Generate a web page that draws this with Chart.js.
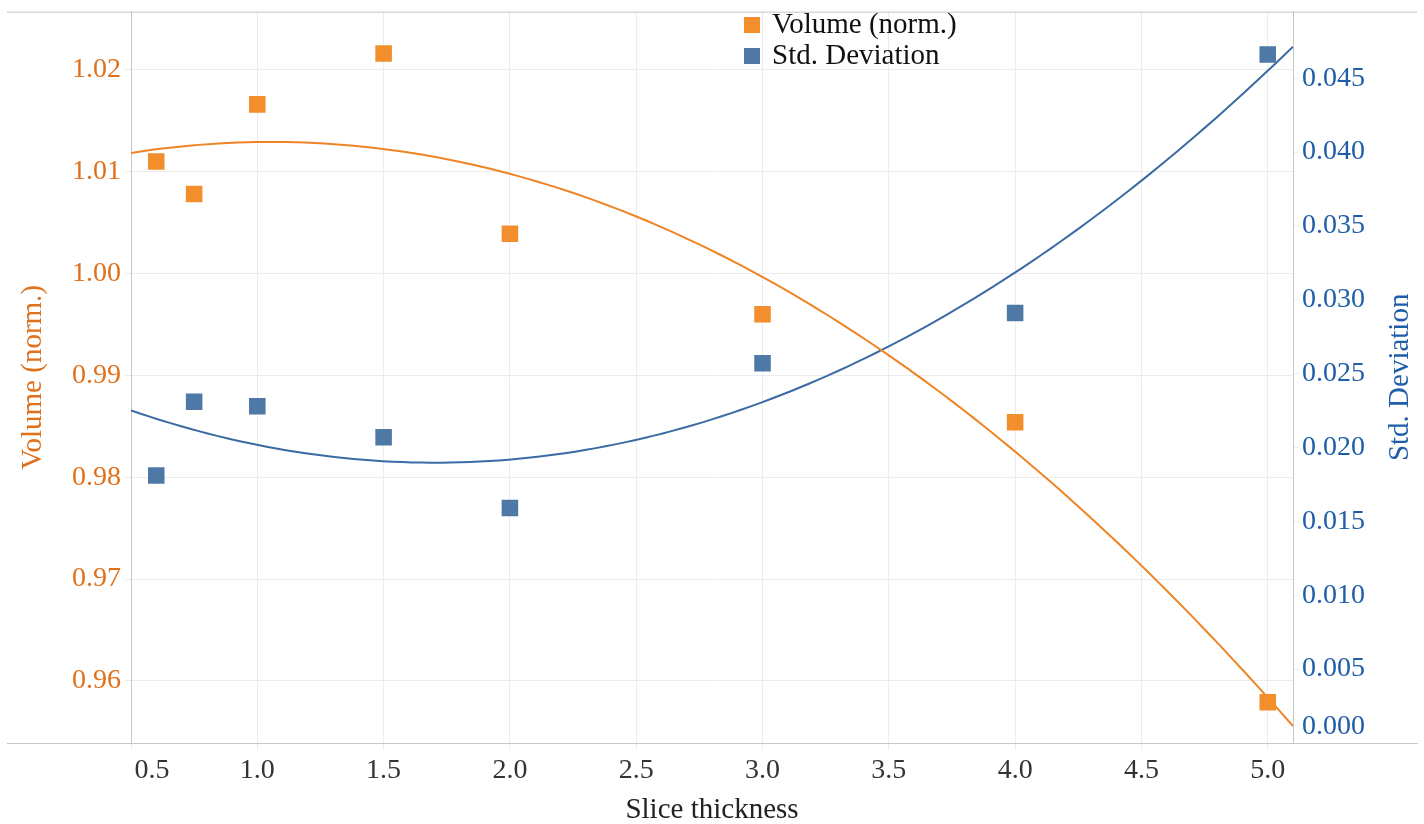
<!DOCTYPE html>
<html>
<head>
<meta charset="utf-8">
<title>Volume (norm.) and Std. Deviation vs Slice thickness</title>
<script src="https://cdn.jsdelivr.net/npm/chart.js@4.4.1/dist/chart.umd.min.js"></script>
<style>
  html, body { margin: 0; padding: 0; background: #fff; }
  #wrap { position: relative; width: 1424px; height: 824px; }
</style>
</head>
<body>
<div id="wrap"><canvas id="chart"></canvas></div>
<script>
// values
const sliceThickness = [0.6, 0.75, 1.0, 1.5, 2.0, 3.0, 4.0, 5.0];
const volumeNorm = [1.0110, 1.0078, 1.0166, 1.0216, 1.0039, 0.9960, 0.9854, 0.9579];
const stdDeviation = [0.0181, 0.0231, 0.0228, 0.0207, 0.0159, 0.0257, 0.0291, 0.0466];

const xTicks = [0.5, 1.0, 1.5, 2.0, 2.5, 3.0, 3.5, 4.0, 4.5, 5.0];
const volumeTicks = [0.96, 0.97, 0.98, 0.99, 1.00, 1.01, 1.02];
const stdTicks = [0, 0.005, 0.010, 0.015, 0.020, 0.025, 0.030, 0.035, 0.040, 0.045];

const xRange = [0.5, 5.1];
const volumeRange = [0.9539, 1.0257];
const stdRange = [0, 0.0495];

const orange = '#f28e2b';
const orangeLine = '#ef8424';
const orangeText = '#e0711c';
const blue = '#4e79a7';
const blueLine = '#3b6ba3';
const blueText = '#1f5ea8';
const gridColor = '#ececec';
const axisColor = '#c6c6c6';
const serif = "'Liberation Serif', 'Times New Roman', serif";

Chart.defaults.font.family = serif;

// least squares quadratic trend, like the reference's trend lines
function quadFit(xs, ys) {
  const s = [0, 0, 0, 0, 0];
  const t = [0, 0, 0];
  xs.forEach((x, i) => {
    for (let k = 0; k < 5; k++) s[k] += Math.pow(x, k);
    for (let k = 0; k < 3; k++) t[k] += Math.pow(x, k) * ys[i];
  });
  const m = [
    [s[0], s[1], s[2], t[0]],
    [s[1], s[2], s[3], t[1]],
    [s[2], s[3], s[4], t[2]],
  ];
  for (let c = 0; c < 3; c++) {
    for (let r = c + 1; r < 3; r++) {
      const f = m[r][c] / m[c][c];
      for (let k = c; k < 4; k++) m[r][k] -= f * m[c][k];
    }
  }
  const coef = [0, 0, 0];
  for (let r = 2; r >= 0; r--) {
    let v = m[r][3];
    for (let k = r + 1; k < 3; k++) v -= m[r][k] * coef[k];
    coef[r] = v / m[r][r];
  }
  return (x) => coef[0] + coef[1] * x + coef[2] * x * x;
}

function trendPoints(fn) {
  const pts = [];
  const steps = 120;
  for (let i = 0; i <= steps; i++) {
    const x = xRange[0] + (xRange[1] - xRange[0]) * i / steps;
    pts.push({ x, y: fn(x) });
  }
  return pts;
}

const volumeTrend = trendPoints(quadFit(sliceThickness, volumeNorm));
const stdTrend = trendPoints(quadFit(sliceThickness, stdDeviation));

// frame lines, axis titles and the stacked legend
const decorations = {
  id: 'decorations',
  beforeDatasetsDraw(chart) {
    const { ctx, chartArea } = chart;
    ctx.save();
    ctx.strokeStyle = axisColor;
    ctx.lineWidth = 1;
    ctx.beginPath();
    ctx.moveTo(7, chartArea.top + 0.5);
    ctx.lineTo(1417, chartArea.top + 0.5);
    ctx.moveTo(7, chartArea.bottom + 0.5);
    ctx.lineTo(1418, chartArea.bottom + 0.5);
    ctx.stroke();
    ctx.restore();
  },
  afterDraw(chart) {
    const { ctx, chartArea } = chart;
    const midY = (chartArea.top + chartArea.bottom) / 2;
    ctx.save();
    ctx.font = '29px ' + serif;
    ctx.textAlign = 'center';
    ctx.textBaseline = 'middle';

    ctx.fillStyle = '#222';
    ctx.fillText('Slice thickness', (chartArea.left + chartArea.right) / 2, 810);

    ctx.save();
    ctx.translate(33, midY);
    ctx.rotate(-Math.PI / 2);
    ctx.fillStyle = orangeText;
    ctx.fillText('Volume (norm.)', 0, 0);
    ctx.restore();

    ctx.save();
    ctx.translate(1400, midY);
    ctx.rotate(-Math.PI / 2);
    ctx.fillStyle = blueText;
    ctx.fillText('Std. Deviation', 0, 0);
    ctx.restore();

    // legend
    ctx.textAlign = 'left';
    ctx.textBaseline = 'alphabetic';
    const items = chart.data.datasets.filter((d) => d.inLegend);
    items.forEach((d, i) => {
      const base = 33 + i * 31;
      ctx.fillStyle = d.backgroundColor;
      ctx.fillRect(744, base - 16, 16, 16);
      ctx.fillStyle = '#111';
      ctx.fillText(d.label, 772, base);
    });
    ctx.restore();
  },
};

new Chart(document.getElementById('chart'), {
  type: 'scatter',
  data: {
    datasets: [
      {
        label: 'Volume (norm.)',
        inLegend: true,
        data: sliceThickness.map((x, i) => ({ x, y: volumeNorm[i] })),
        yAxisID: 'yVol',
        pointStyle: 'rect',
        pointRadius: 11.7,
        pointHoverRadius: 11.7,
        borderWidth: 0,
        backgroundColor: orange,
        borderColor: orange,
      },
      {
        label: 'Std. Deviation',
        inLegend: true,
        data: sliceThickness.map((x, i) => ({ x, y: stdDeviation[i] })),
        yAxisID: 'yStd',
        pointStyle: 'rect',
        pointRadius: 11.7,
        pointHoverRadius: 11.7,
        borderWidth: 0,
        backgroundColor: blue,
        borderColor: blue,
      },
      {
        label: 'Volume trend',
        data: volumeTrend,
        yAxisID: 'yVol',
        showLine: true,
        pointRadius: 0,
        borderColor: orangeLine,
        borderWidth: 2,
        tension: 0,
      },
      {
        label: 'Std trend',
        data: stdTrend,
        yAxisID: 'yStd',
        showLine: true,
        pointRadius: 0,
        borderColor: blueLine,
        borderWidth: 2,
        tension: 0,
      },
    ],
  },
  options: {
    responsive: true,
    maintainAspectRatio: false,
    animation: false,
    layout: { padding: { top: 7, left: 0, right: 0, bottom: 0 } },
    plugins: {
      legend: { display: false },
      tooltip: { enabled: false },
    },
    scales: {
      x: {
        type: 'linear',
        min: xRange[0],
        max: xRange[1],
        afterBuildTicks: (s) => { s.ticks = xTicks.map((v) => ({ value: v })); },
        afterFit: (s) => { s.height = 81; s.paddingLeft = 0; s.paddingRight = 0; },
        ticks: {
          color: '#333',
          font: { size: 28 },
          padding: 4,
          maxRotation: 0,
          autoSkip: false,
          // first label sits right of the axis corner, as in the reference
          callback: (v, i) => (i === 0 ? '      ' + v.toFixed(1) : v.toFixed(1)),
        },
        grid: { color: gridColor, tickLength: 7, tickColor: gridColor },
        border: { display: false },
      },
      yVol: {
        type: 'linear',
        position: 'left',
        min: volumeRange[0],
        max: volumeRange[1],
        afterBuildTicks: (s) => { s.ticks = volumeTicks.map((v) => ({ value: v })); },
        afterFit: (s) => { s.width = 131; s.paddingTop = 0; s.paddingBottom = 0; },
        ticks: {
          color: orangeText,
          font: { size: 28 },
          padding: 4,
          callback: (v) => v.toFixed(2),
        },
        grid: { color: gridColor, tickLength: 6, tickColor: gridColor },
        border: { display: true, color: axisColor },
      },
      yStd: {
        type: 'linear',
        position: 'right',
        min: stdRange[0],
        max: stdRange[1],
        afterBuildTicks: (s) => { s.ticks = stdTicks.map((v) => ({ value: v })); },
        afterFit: (s) => { s.width = 131; s.paddingTop = 0; s.paddingBottom = 0; },
        ticks: {
          color: blueText,
          font: { size: 28 },
          padding: 3,
          // lowest label lifted off the bottom edge, as in the reference
          callback: (v, i) => (i === 0 ? [v.toFixed(3), ''] : v.toFixed(3)),
        },
        grid: { drawOnChartArea: false, tickLength: 6, tickColor: gridColor },
        border: { display: true, color: axisColor },
      },
    },
  },
  plugins: [decorations],
});
</script>
</body>
</html>
